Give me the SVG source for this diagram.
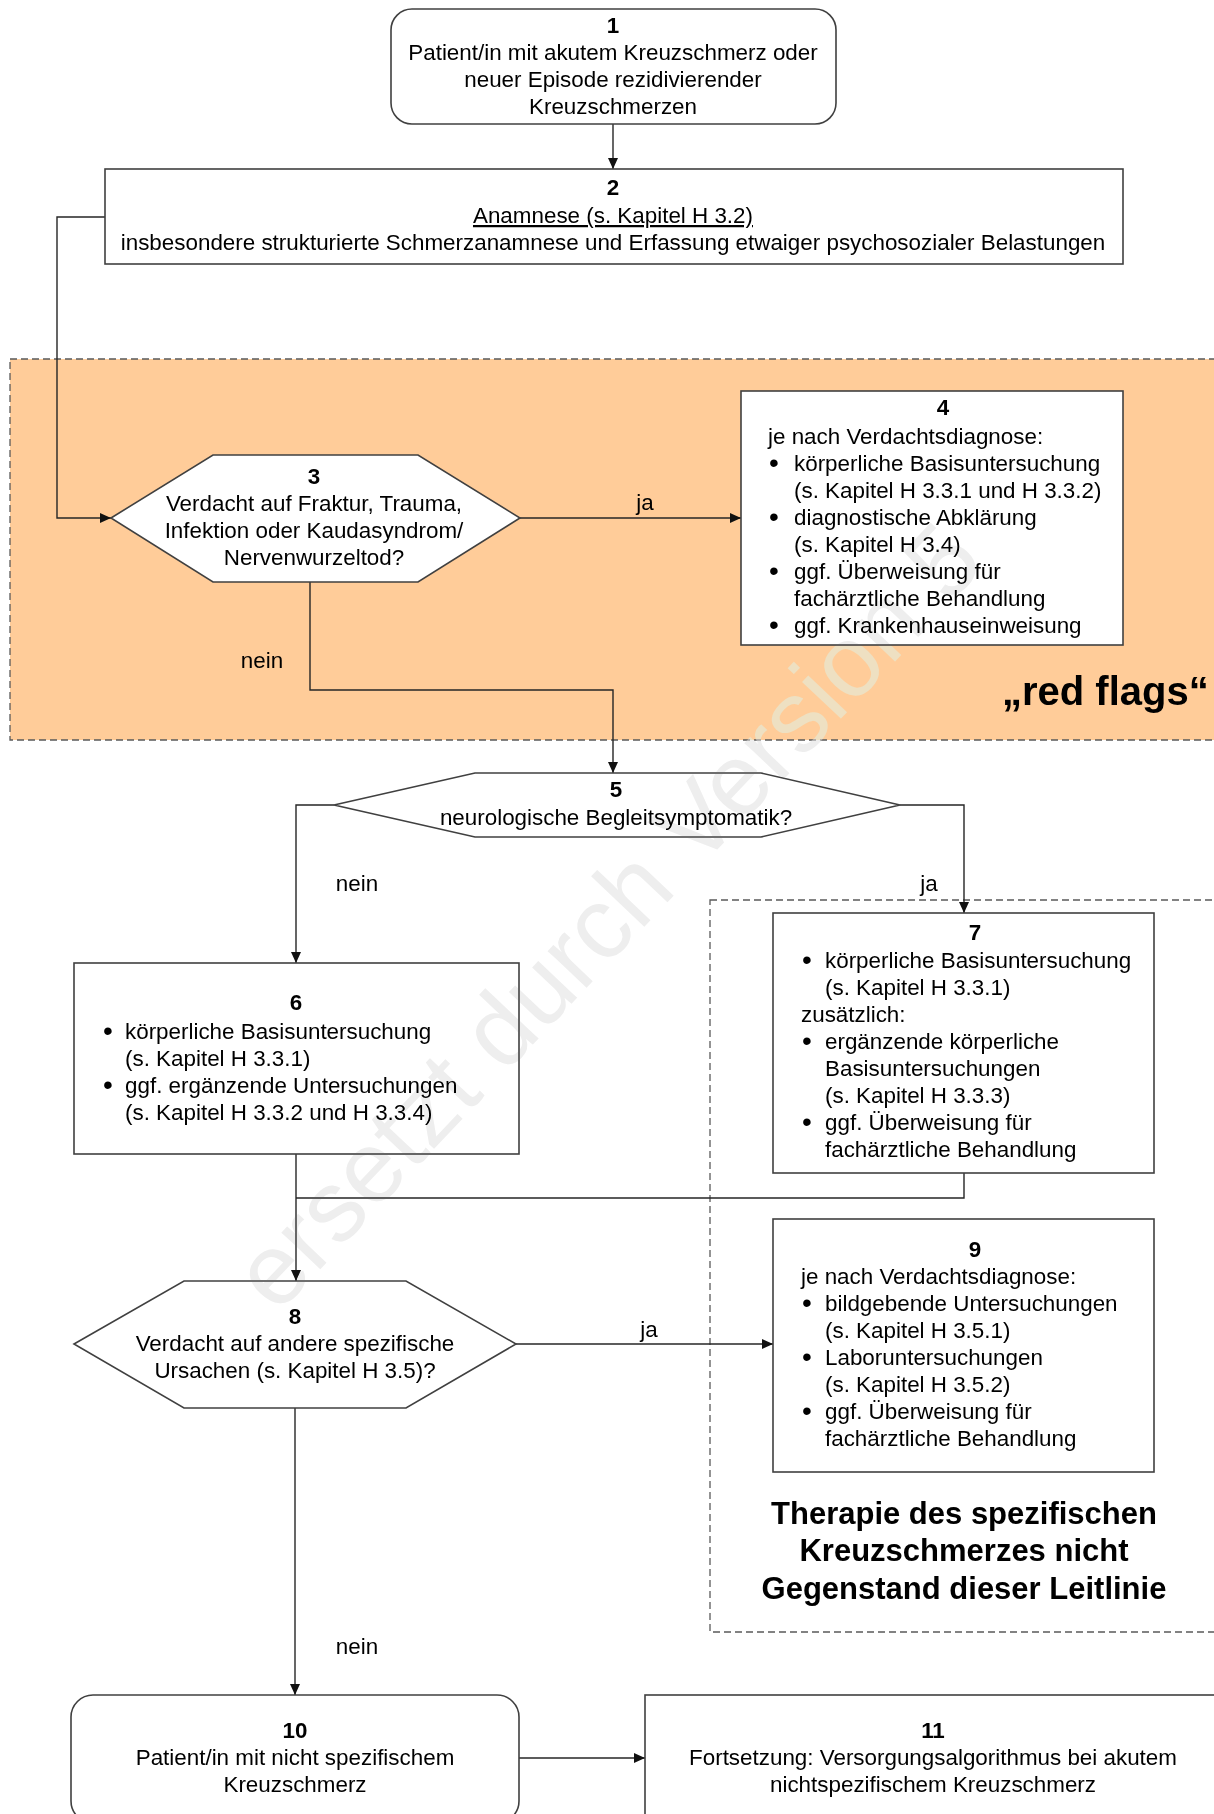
<svg xmlns="http://www.w3.org/2000/svg" xmlns:xlink="http://www.w3.org/1999/xlink" width="1214" height="1814" viewBox="0 0 1214 1814">
<style>
.t{font-family:"Liberation Sans",Arial,sans-serif;font-size:22.4px;fill:#000}
.c{text-anchor:middle}
.b{font-weight:bold}
.bl{font-size:28px}
.box{fill:#fff;stroke:#404040;stroke-width:1.6}
.open{fill:none;stroke:#404040;stroke-width:1.6}
.conn{fill:none;stroke:#262626;stroke-width:1.4}
.region{stroke:#5a5a5a;stroke-width:1.3;stroke-dasharray:7 4}
.lbl{font-family:"Liberation Sans",Arial,sans-serif;font-size:22.4px;fill:#000;text-anchor:middle}
</style>
<defs>
<marker id="ah" markerUnits="userSpaceOnUse" markerWidth="11" markerHeight="10" refX="11" refY="5" orient="auto">
<path d="M0,0 L11,5 L0,10 z" fill="#111"/>
</marker>
<text id="wm" x="277" y="1315" transform="rotate(-46.6 277 1315)" font-family="Liberation Sans, Arial, sans-serif" font-size="101">ersetzt durch Version 5</text>
</defs>
<rect width="1214" height="1814" fill="#fff"/>
<g id="region-redflags">
<rect class="region" x="10" y="359" width="1230" height="381" fill="#FFCC99"/>
<text class="t b" x="1002" y="705" style="font-size:40px">„red flags“</text>
</g>
<g id="region-therapie">
<rect class="region" x="710" y="900" width="530" height="732" fill="none"/>
<text class="t b c" x="964" y="1524" style="font-size:31px">Therapie des spezifischen</text>
<text class="t b c" x="964" y="1561" style="font-size:31px">Kreuzschmerzes nicht</text>
<text class="t b c" x="964" y="1599" style="font-size:31px">Gegenstand dieser Leitlinie</text>
</g>
<use href="#wm" fill="#fff" opacity="0.4"/>
<g id="connectors">
<path class="conn" d="M613,124 V169" marker-end="url(#ah)"/>
<path class="conn" d="M105,217 H57 V518 H111" marker-end="url(#ah)"/>
<path class="conn" d="M520,518 H741" marker-end="url(#ah)"/>
<path class="conn" d="M310,582 V690 H613 V773" marker-end="url(#ah)"/>
<path class="conn" d="M334,805 H296 V963" marker-end="url(#ah)"/>
<path class="conn" d="M900,805 H964 V913" marker-end="url(#ah)"/>
<path class="conn" d="M296,1154 V1281" marker-end="url(#ah)"/>
<path class="conn" d="M964,1173 V1198 H296"/>
<path class="conn" d="M516,1344 H773" marker-end="url(#ah)"/>
<path class="conn" d="M295,1408 V1695" marker-end="url(#ah)"/>
<path class="conn" d="M519,1758 H645" marker-end="url(#ah)"/>
<text class="lbl" x="645" y="510">ja</text>
<text class="lbl" x="262" y="668">nein</text>
<text class="lbl" x="357" y="891">nein</text>
<text class="lbl" x="929" y="891">ja</text>
<text class="lbl" x="649" y="1337">ja</text>
<text class="lbl" x="357" y="1654">nein</text>
</g>
<g id="node1">
<rect class="box" x="391" y="9" width="445" height="115" rx="21"/>
<text class="t c b" x="613" y="33">1</text>
<text class="t c" x="613" y="60">Patient/in mit akutem Kreuzschmerz oder</text>
<text class="t c" x="613" y="87">neuer Episode rezidivierender</text>
<text class="t c" x="613" y="114">Kreuzschmerzen</text>
</g>
<g id="node2">
<rect class="box" x="105" y="169" width="1018" height="95"/>
<text class="t c b" x="613" y="195">2</text>
<text class="t c" x="613" y="223" text-decoration="underline">Anamnese (s. Kapitel H 3.2)</text>
<text class="t c" x="613" y="250">insbesondere strukturierte Schmerzanamnese und Erfassung etwaiger psychosozialer Belastungen</text>
</g>
<g id="node3">
<polygon class="box" points="111,518 213,455 418,455 520,518 418,582 213,582"/>
<text class="t c b" x="314" y="484">3</text>
<text class="t c" x="314" y="511">Verdacht auf Fraktur, Trauma,</text>
<text class="t c" x="314" y="538">Infektion oder Kaudasyndrom/</text>
<text class="t c" x="314" y="565">Nervenwurzeltod?</text>
</g>
<g id="node4">
<rect class="box" x="741" y="391" width="382" height="254"/>
<text class="t c b" x="943" y="415">4</text>
<text class="t" x="768" y="444">je nach Verdachtsdiagnose:</text>
<text class="t c bl" x="774" y="472">•</text>
<text class="t" x="794" y="471">körperliche Basisuntersuchung</text>
<text class="t" x="794" y="498">(s. Kapitel H 3.3.1 und H 3.3.2)</text>
<text class="t c bl" x="774" y="526">•</text>
<text class="t" x="794" y="525">diagnostische Abklärung</text>
<text class="t" x="794" y="552">(s. Kapitel H 3.4)</text>
<text class="t c bl" x="774" y="580">•</text>
<text class="t" x="794" y="579">ggf. Überweisung für</text>
<text class="t" x="794" y="606">fachärztliche Behandlung</text>
<text class="t c bl" x="774" y="634">•</text>
<text class="t" x="794" y="633">ggf. Krankenhauseinweisung</text>
</g>
<g id="node5">
<polygon class="box" points="334,805 475,773 761,773 900,805 761,837 475,837"/>
<text class="t c b" x="616" y="797">5</text>
<text class="t c" x="616" y="825">neurologische Begleitsymptomatik?</text>
</g>
<g id="node6">
<rect class="open" x="74" y="963" width="445" height="191"/>
<text class="t c b" x="296" y="1010">6</text>
<text class="t c bl" x="108" y="1040">•</text>
<text class="t" x="125" y="1039">körperliche Basisuntersuchung</text>
<text class="t" x="125" y="1066">(s. Kapitel H 3.3.1)</text>
<text class="t c bl" x="108" y="1094">•</text>
<text class="t" x="125" y="1093">ggf. ergänzende Untersuchungen</text>
<text class="t" x="125" y="1120">(s. Kapitel H 3.3.2 und H 3.3.4)</text>
</g>
<g id="node7">
<rect class="open" x="773" y="913" width="381" height="260"/>
<text class="t c b" x="975" y="940">7</text>
<text class="t c bl" x="807" y="969">•</text>
<text class="t" x="825" y="968">körperliche Basisuntersuchung</text>
<text class="t" x="825" y="995">(s. Kapitel H 3.3.1)</text>
<text class="t" x="801" y="1022">zusätzlich:</text>
<text class="t c bl" x="807" y="1050">•</text>
<text class="t" x="825" y="1049">ergänzende körperliche</text>
<text class="t" x="825" y="1076">Basisuntersuchungen</text>
<text class="t" x="825" y="1103">(s. Kapitel H 3.3.3)</text>
<text class="t c bl" x="807" y="1131">•</text>
<text class="t" x="825" y="1130">ggf. Überweisung für</text>
<text class="t" x="825" y="1157">fachärztliche Behandlung</text>
</g>
<g id="node8">
<polygon class="box" points="74,1344 184,1281 406,1281 516,1344 406,1408 184,1408"/>
<text class="t c b" x="295" y="1324">8</text>
<text class="t c" x="295" y="1351">Verdacht auf andere spezifische</text>
<text class="t c" x="295" y="1378">Ursachen (s. Kapitel H 3.5)?</text>
</g>
<g id="node9">
<rect class="open" x="773" y="1219" width="381" height="253"/>
<text class="t c b" x="975" y="1257">9</text>
<text class="t" x="801" y="1284">je nach Verdachtsdiagnose:</text>
<text class="t c bl" x="807" y="1312">•</text>
<text class="t" x="825" y="1311">bildgebende Untersuchungen</text>
<text class="t" x="825" y="1338">(s. Kapitel H 3.5.1)</text>
<text class="t c bl" x="807" y="1366">•</text>
<text class="t" x="825" y="1365">Laboruntersuchungen</text>
<text class="t" x="825" y="1392">(s. Kapitel H 3.5.2)</text>
<text class="t c bl" x="807" y="1420">•</text>
<text class="t" x="825" y="1419">ggf. Überweisung für</text>
<text class="t" x="825" y="1446">fachärztliche Behandlung</text>
</g>
<g id="node10">
<rect class="box" x="71" y="1695" width="448" height="128" rx="22"/>
<text class="t c b" x="295" y="1738">10</text>
<text class="t c" x="295" y="1765">Patient/in mit nicht spezifischem</text>
<text class="t c" x="295" y="1792">Kreuzschmerz</text>
</g>
<g id="node11">
<rect class="box" x="645" y="1695" width="580" height="128"/>
<text class="t c b" x="933" y="1738">11</text>
<text class="t c" x="933" y="1765">Fortsetzung: Versorgungsalgorithmus bei akutem</text>
<text class="t c" x="933" y="1792">nichtspezifischem Kreuzschmerz</text>
</g>
<use href="#wm" fill="#eeeeee" style="mix-blend-mode:darken"/>
</svg>
